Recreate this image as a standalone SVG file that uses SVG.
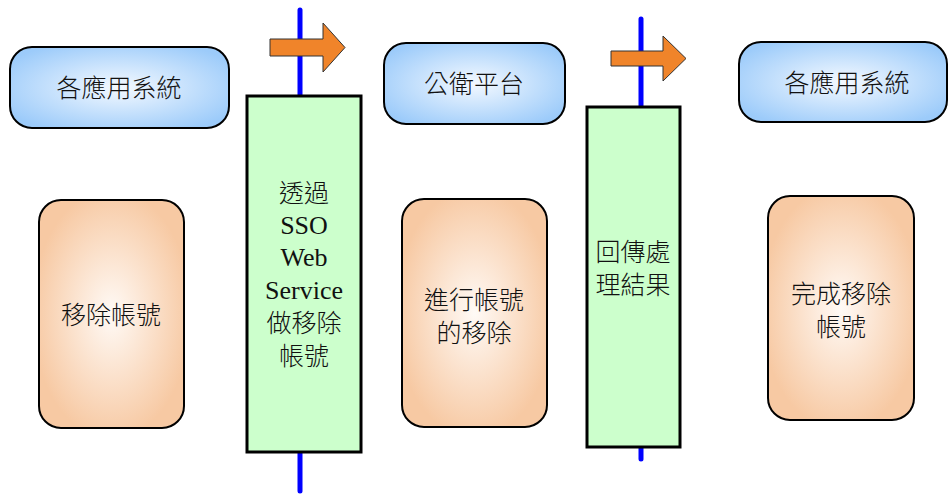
<svg xmlns="http://www.w3.org/2000/svg" width="950" height="494" viewBox="0 0 950 494">
<style>
.blue{fill:url(#gBlue);stroke:#000;stroke-width:2}
.orange{fill:url(#gOrange);stroke:#000;stroke-width:2}
.green{fill:#ccffcc;stroke:#000;stroke-width:3}
.line{stroke:#0000ff;stroke-width:5;stroke-linecap:round}
.arrow{fill:#f0842a;stroke:#333;stroke-width:1}
.t{font-family:"Noto Sans CJK TC","Liberation Serif",sans-serif;font-size:25px;font-weight:300;fill:#111;text-anchor:middle}
.s{font-family:"Liberation Serif","Noto Sans CJK TC",serif;font-size:26px;fill:#111;text-anchor:middle}
</style>
<defs>
<radialGradient id="gBlue" cx="50%" cy="50%" r="60%">
<stop offset="0" stop-color="#f4f9ff"/>
<stop offset="1" stop-color="#9ccbfa"/>
</radialGradient>
<radialGradient id="gOrange" cx="50%" cy="50%" r="55%">
<stop offset="0" stop-color="#fffaf6"/>
<stop offset="1" stop-color="#f7c9a3"/>
</radialGradient>
</defs>
<g id="connectors">
<line class="line" x1="300" y1="10" x2="300" y2="491"/>
<line class="line" x1="641" y1="19" x2="641" y2="459"/>
<path class="arrow" d="M270,39 H323 V23 L345,47.5 L323,72 V56 H270 Z"/>
<path class="arrow" d="M611,51 H663 V36 L686,58.5 L663,81 V66 H611 Z"/>
</g>
<g id="n-apps1">
<rect class="blue" x="10" y="47" width="219" height="81" rx="22"/>
<text class="t" x="119" y="97">各應用系統</text>
</g>
<g id="n-platform">
<rect class="blue" x="384" y="43" width="181" height="81" rx="22"/>
<text class="t" x="474" y="93">公衛平台</text>
</g>
<g id="n-apps2">
<rect class="blue" x="739" y="42" width="208" height="80" rx="22"/>
<text class="t" x="847" y="92">各應用系統</text>
</g>
<g id="n-sso">
<rect class="green" x="247" y="96" width="114" height="356"/>
<text class="t" x="304" y="202">透過</text>
<text class="s" x="304" y="234">SSO</text>
<text class="s" x="304" y="266">Web</text>
<text class="s" x="304" y="299">Service</text>
<text class="t" x="304" y="332">做移除</text>
<text class="t" x="304" y="365">帳號</text>
</g>
<g id="n-return">
<rect class="green" x="587" y="107" width="93" height="340"/>
<text class="t" x="633" y="261">回傳處</text>
<text class="t" x="633" y="294">理結果</text>
</g>
<g id="n-remove1">
<rect class="orange" x="39" y="200" width="145" height="228" rx="22"/>
<text class="t" x="111" y="324">移除帳號</text>
</g>
<g id="n-remove2">
<rect class="orange" x="402" y="199" width="145" height="228" rx="22"/>
<text class="t" x="474" y="309">進行帳號</text>
<text class="t" x="474" y="342">的移除</text>
</g>
<g id="n-remove3">
<rect class="orange" x="768" y="196" width="146" height="224" rx="22"/>
<text class="t" x="841" y="303">完成移除</text>
<text class="t" x="841" y="336">帳號</text>
</g>
</svg>
